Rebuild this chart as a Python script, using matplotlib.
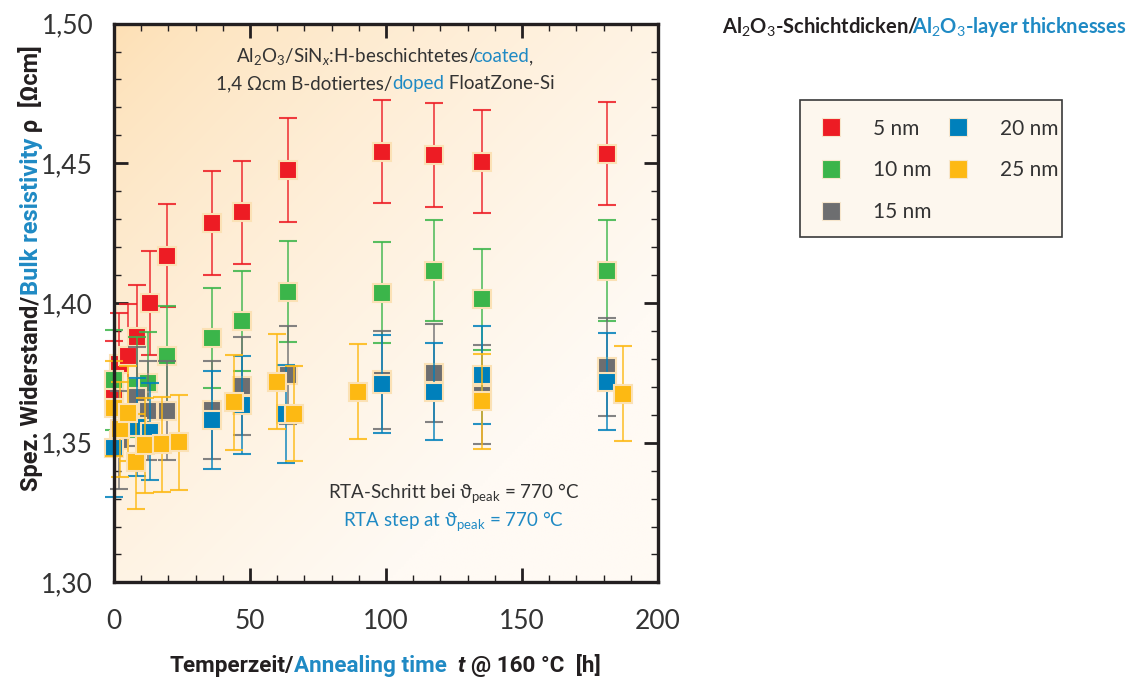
import numpy as np
import matplotlib
matplotlib.use("Agg")
import matplotlib.pyplot as plt
from matplotlib.lines import Line2D
from matplotlib.patches import Rectangle
from matplotlib.ticker import MultipleLocator, FuncFormatter

# ---------------- data ----------------
t_5 = [0, 1.7, 5.3, 8.3, 13.2, 19.4, 35.9, 47.1, 64.1, 98.6, 117.6, 135.2, 181.1]
rho_5 = [1.368, 1.378, 1.381, 1.388, 1.400, 1.417, 1.4286, 1.4325, 1.4476, 1.4542, 1.4530, 1.4506, 1.4534]
err_5 = 0.0185

t_10 = [0, 8.3, 12.6, 19.4, 35.9, 47.1, 64.1, 98.6, 117.6, 135.2, 181.1]
rho_10 = [1.3725, 1.370, 1.3715, 1.381, 1.3874, 1.3936, 1.4041, 1.4037, 1.4116, 1.4013, 1.4116]
err_10 = 0.018

t_15 = [2, 8.3, 12.6, 19.4, 35.9, 47.1, 64.1, 98.6, 117.6, 135.2, 181.1]
rho_15 = [1.351, 1.3665, 1.3615, 1.3615, 1.3617, 1.3703, 1.3742, 1.3725, 1.3749, 1.3672, 1.3772]
err_15 = 0.0176

t_20 = [0, 8.5, 13.2, 35.9, 47.1, 63.4, 98.6, 117.6, 135.2, 181.1]
rho_20 = [1.348, 1.3557, 1.354, 1.3581, 1.3635, 1.3603, 1.3709, 1.3683, 1.3743, 1.3719]
err_20 = 0.0175

t_25 = [0, 2.2, 5, 8, 11.4, 17.5, 24, 44.1, 60, 66.2, 89.8, 135.2, 187.3]
rho_25 = [1.3623, 1.3548, 1.3605, 1.3432, 1.349, 1.3494, 1.3502, 1.3645, 1.3718, 1.3603, 1.3683, 1.3649, 1.3675]
err_25 = 0.017

labels = ["5 nm", "10 nm", "15 nm", "20 nm", "25 nm"]
colors = ["#ed1c24", "#3bb54a", "#6d6e70", "#0080bb", "#fdb913"]
x_ticks = [0, 50, 100, 150, 200]
y_ticks = [1.30, 1.35, 1.40, 1.45, 1.50]

BLUE_TXT = "#1f8ac4"
DARK = "#231f20"
TXT = "#333333"

# ---------------- fonts ----------------
plt.rcParams["font.family"] = ["Lato", "DejaVu Sans"]
plt.rcParams["mathtext.fontset"] = "custom"
plt.rcParams["mathtext.rm"] = "Lato"
plt.rcParams["mathtext.it"] = "Lato:italic"
plt.rcParams["mathtext.bf"] = "Lato:bold"
COND = ["Roboto", "DejaVu Sans"]

W, H = 1131, 679
fig = plt.figure(figsize=(W / 100, H / 100), dpi=100)
fig.patch.set_facecolor("white")
ax = fig.add_axes([114 / W, 1 - 582.4 / H, (658 - 114) / W, (582.4 - 23.6) / H])

# background gradient (orange top-left -> pale bottom-right)
n = 200
u = np.linspace(0, 1, n)[None, :]
v = np.linspace(0, 1, n)[:, None]          # 0 at top row
s = np.clip((u + v) / 1.5, 0, 1) ** 0.7
c0 = np.array([0xfd, 0xdf, 0xb3]) / 255
c1 = np.array([0xff, 0xfa, 0xf4]) / 255
img = c0[None, None, :] * (1 - s[..., None]) + c1[None, None, :] * s[..., None]
ax.imshow(img, extent=[0, 1, 0, 1], transform=ax.transAxes, aspect="auto",
          zorder=0, interpolation="bilinear")

series = [(t_5, rho_5, err_5), (t_10, rho_10, err_10), (t_15, rho_15, err_15),
          (t_20, rho_20, err_20), (t_25, rho_25, err_25)]
for i, ((t, r, e), c) in enumerate(zip(series, colors)):
    eb = ax.errorbar(t, r, yerr=e, fmt="s", color=c, ecolor=c, elinewidth=1.2,
                     capsize=6.5, capthick=1.6, markersize=13, markeredgecolor="#fbe1b5",
                     markeredgewidth=1.5, zorder=2 + i, clip_on=False)
    for art in eb.lines[1] + eb.lines[2]:
        art.set_alpha(0.85)

ax.set_xlim(0, 200)
ax.set_ylim(1.30, 1.50)
ax.set_xticks(x_ticks)
ax.set_yticks(y_ticks)
ax.xaxis.set_minor_locator(MultipleLocator(10))
ax.yaxis.set_minor_locator(MultipleLocator(0.01))
ax.yaxis.set_major_formatter(FuncFormatter(lambda y, p: f"{y:.2f}".replace(".", ",")))
ax.tick_params(which="both", direction="in", top=True, right=True, colors=DARK)
ax.tick_params(which="major", length=10, width=2.0, labelsize=19, labelcolor=TXT)
ax.tick_params(which="minor", length=5, width=1.0)
ax.tick_params(axis="x", which="major", pad=19)
ax.tick_params(axis="y", which="major", pad=15)
for sp in ax.spines.values():
    sp.set_linewidth(2.4)
    sp.set_color(DARK)
    sp.set_zorder(10)


# ---------------- multi-colour text helper ----------------
def pieces_text(x_px, y_px, pieces, rotation=0, **kw):
    """place pieces [(text, color, extra_gap_px)] centred at (x_px, y_px) (pixels from top-left)"""
    renderer = fig.canvas.get_renderer()
    arts, gaps = [], []
    for p in pieces:
        txt, col = p[0], p[1]
        gaps.append(p[2] if len(p) > 2 else 0.0)
        extra = p[3] if len(p) > 3 else {}
        a = fig.text(0, 0, txt, color=col, rotation=rotation, rotation_mode="anchor",
                     ha="left", va="baseline", **{**kw, **extra})
        arts.append(a)
    sizes = []
    for a in arts:
        bb = a.get_window_extent(renderer)
        sizes.append(bb.height if rotation == 90 else bb.width)
    total = sum(sizes) + sum(gaps)
    pos = ((H - y_px) if rotation == 90 else x_px) - total / 2
    for a, sz, g in zip(arts, sizes, gaps):
        pos += g
        if rotation == 90:
            a.set_position((x_px / W, pos / H))
        else:
            a.set_position((pos / W, (H - y_px) / H))
        pos += sz
    return arts


# axis labels
pieces_text(38, 268, [("Spez. Widerstand/", DARK), ("Bulk resistivity", BLUE_TXT),
                      (r" ρ  [Ωcm]", DARK)], rotation=90, fontsize=17,
            family=COND, fontweight="bold")
pieces_text(385, 672, [("Temperzeit/", DARK), ("Annealing time", BLUE_TXT),
                       ("t", DARK, 11, {"style": "italic"}), ("@ 160 °C  [h]", DARK, 6)],
            fontsize=16.2, family=COND, fontweight="bold")

# annotation texts inside plot
pieces_text(385, 62, [(r"Al$_2$O$_3$/SiN$_x$:H-beschichtetes/", TXT),
                      ("coated", BLUE_TXT, -5), (",", TXT)], fontsize=13.5)
pieces_text(385, 89, [("1,4 Ωcm B-dotiertes/", TXT), ("doped", BLUE_TXT),
                      (" FloatZone-Si", TXT)], fontsize=13.5)
pieces_text(454, 498, [(r"RTA-Schritt bei ϑ$_{\mathrm{peak}}$ = 770 °C", TXT)],
            fontsize=13.5)
pieces_text(454, 526, [(r"RTA step at ϑ$_{\mathrm{peak}}$ = 770 °C", BLUE_TXT)],
            fontsize=13.5)

# legend title
pieces_text(924, 33, [(r"Al$_2$O$_3$-Schichtdicken/", DARK),
                      (r"Al$_2$O$_3$-layer thicknesses", BLUE_TXT, -6)],
            fontsize=14.5, fontweight="bold")

# legend
fig.add_artist(Rectangle((800 / W, 1 - 237 / H), 262 / W, 137 / H, transform=fig.transFigure,
                         facecolor="#fdf7ee", edgecolor="#3a3a3a", linewidth=1.2, zorder=1))
handles = [Line2D([], [], marker="s", linestyle="none", color=c, markersize=13,
                  markeredgecolor="#f7e6cc", markeredgewidth=0.8) for c in colors]
leg = fig.legend(handles, labels, ncol=2, frameon=False, loc="upper left",
                 bbox_to_anchor=(806 / W, 1 - 104 / H), fontsize=15,
                 handletextpad=1.5, columnspacing=0.8, labelspacing=1.05,
                 handlelength=1.0, borderpad=0.2)
for tx in leg.get_texts():
    tx.set_color(TXT)

fig.savefig("out.png", dpi=100)
